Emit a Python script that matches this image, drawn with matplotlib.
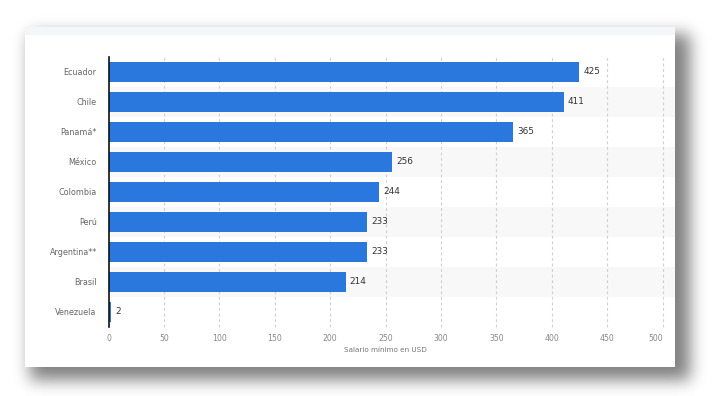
import numpy as np
import matplotlib
matplotlib.use("Agg")
import matplotlib.pyplot as plt
from matplotlib.patches import Rectangle

countries = ["Ecuador", "Chile", "Panamá*", "México", "Colombia", "Perú", "Argentina**", "Brasil", "Venezuela"]
values = [425, 411, 365, 256, 244, 233, 233, 214, 2]
xticks = [0, 50, 100, 150, 200, 250, 300, 350, 400, 450, 500]
xlabel = "Salario mínimo en USD"

W, H = 723, 396
fig = plt.figure(figsize=(W / 100, H / 100), dpi=100)
fig.patch.set_facecolor("white")

# background: shadow + card
bg = fig.add_axes([0, 0, 1, 1], zorder=0)
bg.set_xlim(0, W)
bg.set_ylim(H, 0)
bg.axis("off")

mask = np.zeros((H, W))
mask[34:380, 30:690] = 1.0
def blur1d(a, sigma, axis):
    r = int(3 * sigma)
    k = np.exp(-0.5 * (np.arange(-r, r + 1) / sigma) ** 2)
    k /= k.sum()
    return np.apply_along_axis(lambda v: np.convolve(v, k, mode="same"), axis, a)
mask = blur1d(blur1d(mask, 8, 0), 8, 1)
img = np.zeros((H, W, 4))
img[..., 3] = mask * 0.5
bg.imshow(img, extent=(0, W, H, 0), interpolation="bilinear", zorder=0)
bg.add_patch(Rectangle((25, 27), 650, 340, facecolor="white", edgecolor="none", zorder=1))
bg.add_patch(Rectangle((25, 27), 650, 8, facecolor="#f4f6f8", edgecolor="none", zorder=2))

# main axes
left, right = 108.5, 662.5
top, bottom = 56.7, 326.7
ax = fig.add_axes([left / W, 1 - bottom / H, (right - left) / W, (bottom - top) / H], zorder=1)
ax.patch.set_facecolor("none")

n = len(countries)
y = np.arange(n)
ax.set_ylim(n - 0.5, -0.5)
ax.set_xlim(0, 500)

band_right = (675 - left) / (right - left)
for i in range(n):
    if i % 2 == 1:
        ax.axhspan(i - 0.5, i + 0.5, xmin=0, xmax=band_right, facecolor="#f8f8f8",
                   edgecolor="none", zorder=0, clip_on=False)

for t in xticks[1:]:
    ax.axvline(t, color="#cfcfcf", lw=0.8, ls=(0, (2.5, 2.5)), zorder=1, clip_on=False)

ax.barh(y, values, height=0.68, color="#2a77dd", zorder=2)
for yi, v in zip(y, values):
    ax.annotate(str(v), (v, yi), xytext=(3, 0), textcoords="offset points",
                va="center", ha="left", fontsize=6.4, color="#333333", zorder=3)

for s in ["top", "right", "bottom"]:
    ax.spines[s].set_visible(False)
ax.spines["left"].set_color("#111111")
ax.spines["left"].set_linewidth(1.2)
ax.spines["left"].set_zorder(4)

ax.set_yticks(y)
ax.set_yticklabels(countries, fontsize=5.8, color="#666666")
ax.set_xticks(xticks)
ax.set_xticklabels([str(t) for t in xticks], fontsize=5.6, color="#888888")
ax.tick_params(axis="y", length=0, pad=8.5)
ax.tick_params(axis="x", length=0, pad=5)
ax.get_xticklabels()[-1].set_ha("right")
ax.get_xticklabels()[-1].set_x(500)
ax.set_xlabel(xlabel, fontsize=5.2, color="#777777", labelpad=3)

fig.savefig("out.png", dpi=100, facecolor="white")
